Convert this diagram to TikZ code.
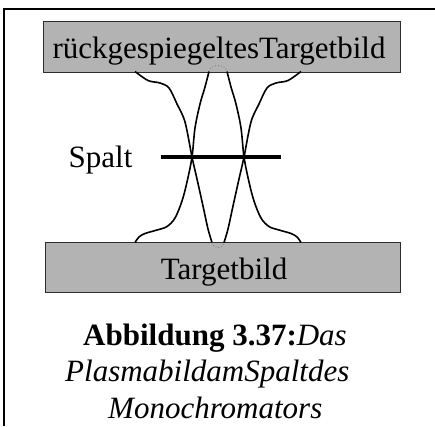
\documentclass[tikz,border=0pt]{standalone}
\usepackage{fontspec}
\setmainfont{Liberation Serif}
\definecolor{boxgray}{RGB}{179,179,179}
\definecolor{boxline}{RGB}{45,45,45}
\tikzset{
  box/.style={draw=boxline, fill=boxgray, line width=1pt, inner sep=0pt},
  lbl/.style={inner sep=0pt, font=\fontsize{31}{33}\selectfont},
  beam/.style={line width=1.6pt, smooth, tension=0.55},
  edgearc/.style={draw=gray, dotted, line width=0.9pt},
  frameline/.style={line width=2.2pt},
  slit/.style={line width=4.5pt}
}
\begin{document}
\begin{tikzpicture}[x=1pt,y=-1pt]
\useasboundingbox (0,0) rectangle (435,426);
\fill[white] (0,0) rectangle (435,426);
% frame
\coordinate (fbl) at (4,426);
\coordinate (ftl) at (4,9);
\coordinate (ftr) at (435,9);
\draw[frameline] (fbl) -- (ftl) -- (ftr);
% boxes
\node[box, minimum width=357.5pt, minimum height=50.5pt] (topbox) at (222,46.75) {};
\node[box, minimum width=355pt, minimum height=49.7pt] (botbox) at (222.5,267.2) {};
\node[lbl, anchor=base] (toptext) at (219,58) {rückgespiegeltesTargetbild};
\node[lbl, anchor=base] (bottext) at (224,279) {Targetbild};
% beams, left half
\begin{scope}
\draw[beam] plot coordinates {(135,71.5) (148,80.5) (160,83) (169,88) (177,104) (185,122) (192,157) (197,179) (203,206) (208,229) (212,242.5)};
\draw[beam] plot coordinates {(209,71.5) (205,87) (200,104) (195,128) (192,157) (187,182) (182,201) (175,218) (167,226.5) (157,230) (145,233.5) (139,237) (135,242.5)};
\end{scope}
% beams, right half (mirror)
\begin{scope}[shift={(436,0)}, xscale=-1]
\draw[beam] plot coordinates {(135,71.5) (148,80.5) (160,83) (169,88) (177,104) (185,122) (192,157) (197,179) (203,206) (208,229) (212,242.5)};
\draw[beam] plot coordinates {(209,71.5) (205,87) (200,104) (195,128) (192,157) (187,182) (182,201) (175,218) (167,226.5) (157,230) (145,233.5) (139,237) (135,242.5)};
\end{scope}
% dotted closing arcs
\draw[edgearc] (209,71.5) .. controls (211,63.5) and (225,63.5) .. (227,71.5);
\draw[edgearc] (212,242.5) .. controls (214,249.5) and (222,249.5) .. (224,242.5);
% slit
\coordinate (slitL) at (161,157);
\coordinate (slitR) at (281,157);
\draw[slit] (slitL) -- (slitR);
\node[lbl, anchor=base west] (spalt) at (68.5,167.5) {Spalt};
% caption
\node[lbl, anchor=base west] (cap1) at (83,345) {\textbf{Abbildung 3.37:}\textit{Das}};
\node[lbl, anchor=base west] (cap2) at (65,381) {\textit{PlasmabildamSpaltdes}};
\node[lbl, anchor=base west] (cap3) at (108,418) {\textit{Monochromators}};
\end{tikzpicture}
\end{document}
